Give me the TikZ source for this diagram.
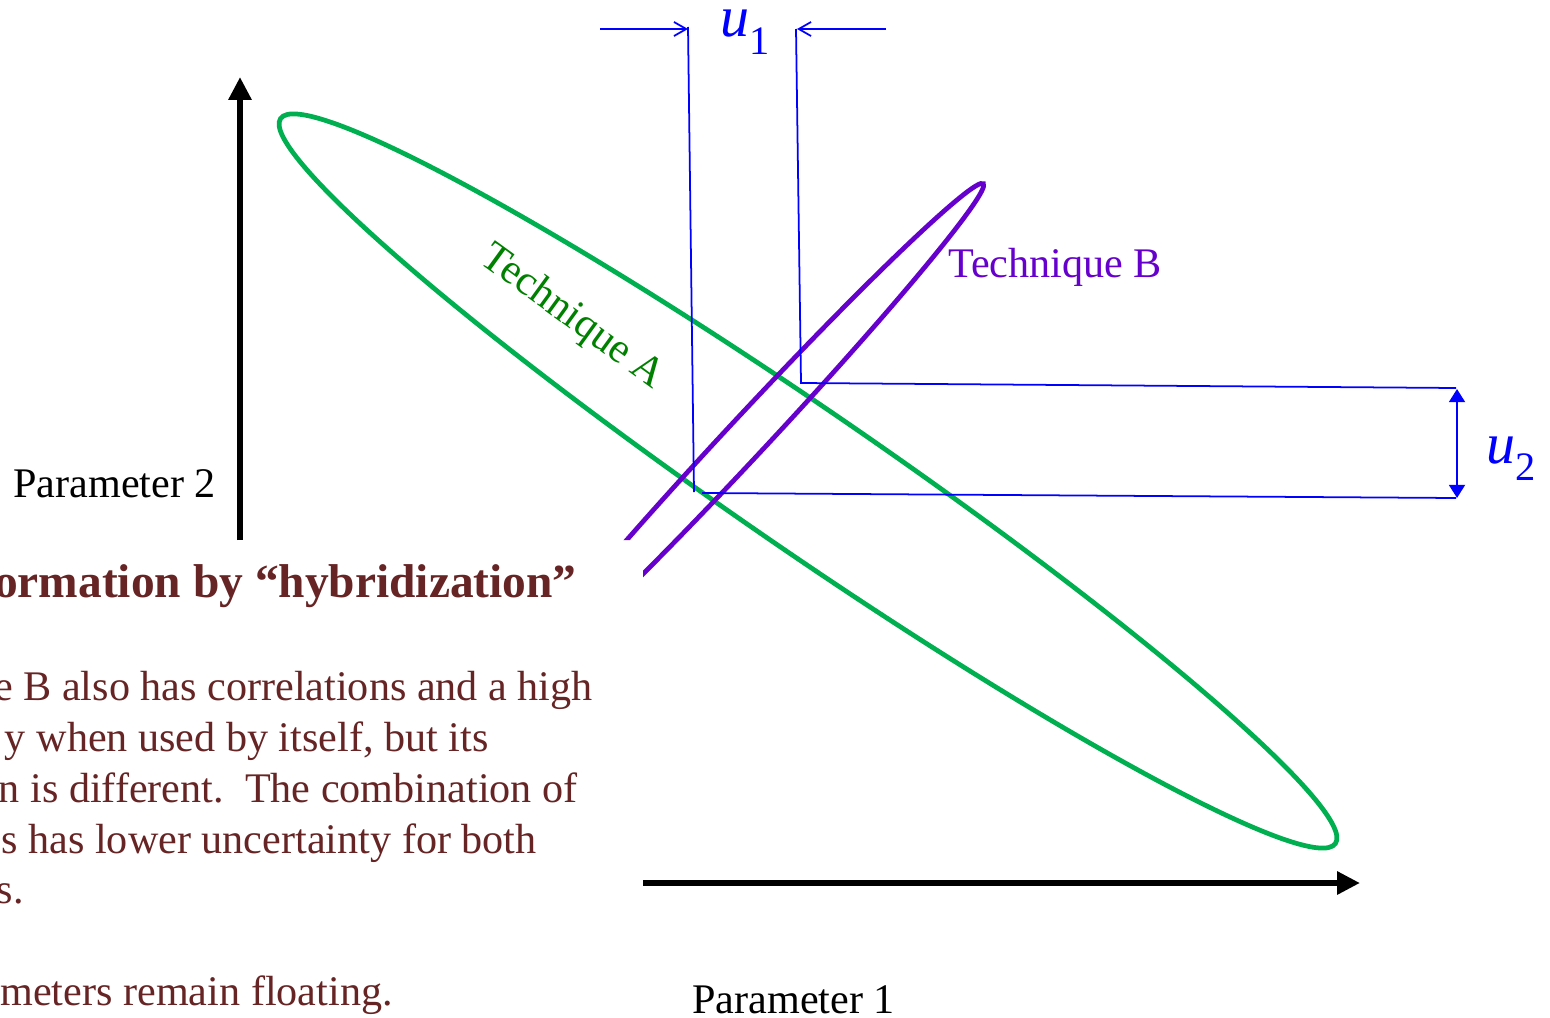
\documentclass[tikz,border=0pt]{standalone}
\usepackage{fontspec}
\setmainfont{Liberation Serif}
\definecolor{techGreen}{RGB}{0, 176, 80}
\definecolor{labelGreen}{RGB}{0, 128, 0}
\definecolor{techPurple}{RGB}{102, 0, 204}
\definecolor{dimBlue}{RGB}{0, 0, 255}
\definecolor{noteRed}{RGB}{102, 36, 36}
\usetikzlibrary{arrows.meta, positioning}

\begin{document}
\begin{tikzpicture}[
      x=0.02cm, y=-0.02cm,
      axis/.style={line width=3.4pt, -{Triangle[length=13pt, width=12.5pt]}},
      region/.style={line width=2.7pt},
      dimline/.style={dimBlue, line width=1pt},
      barb/.style={dimline, -{Straight Barb[length=7pt, width=8pt]}},
      span/.style={dimBlue, line width=1.5pt, {Triangle[length=7.5pt, width=9pt]}-{Triangle[length=7.5pt, width=9pt]}},
      lbl/.style={inner sep=0pt, font=\fontsize{24}{29}\selectfont},
      note/.style={lbl, text=noteRed, anchor=base east},
      ulbl/.style={inner sep=0pt, text=dimBlue, anchor=base west, font=\fontsize{33}{33}\selectfont\itshape},
    ]
      \useasboundingbox (0,0) rectangle (1550,1017);

      % uncertainty regions
      \coordinate (cA) at (808,481);
      \coordinate (cB) at (748,436);
      \draw[region, techGreen, rotate around={-34.5:(cA)}] (cA) ellipse [x radius=640, y radius=70];
      \begin{scope}
        \clip (0,0) rectangle (1550,540) (643,540) rectangle (1550,1017);
        \draw[region, techPurple, rotate around={47:(cB)}] (cB) ellipse [x radius=345, y radius=20];
      \end{scope}

      % axes
      \coordinate (yBot) at (240,540);
      \coordinate (yTop) at (240,77);
      \coordinate (xLeft) at (643,883);
      \coordinate (xRight) at (1360,883);
      \draw[axis] (yBot) -- (yTop);
      \draw[axis] (xLeft) -- (xRight);
      \node[lbl, anchor=base west] (par2) at (13,497) {Parameter 2};
      \node[lbl, anchor=base west] (par1) at (692,1013) {Parameter 1};

      \node[lbl, text=labelGreen, anchor=base, rotate=-36] (techA) at (566,326) {Technique A};
      \node[lbl, text=techPurple, anchor=base west] (techB) at (948,277) {Technique B};

      % projections onto the axes
      \coordinate (v1Top) at (688,27);
      \coordinate (v1Bot) at (694,492);
      \coordinate (h1Left) at (702,493);
      \coordinate (h1Right) at (1456,498);
      \coordinate (v2Top) at (796,29);
      \coordinate (v2Bot) at (801,383);
      \coordinate (h2Right) at (1456,388);
      \draw[dimline] (v1Top) -- (v1Bot);
      \draw[dimline] (h1Left) -- (h1Right);
      \draw[dimline] (v2Top) -- (v2Bot) -- (h2Right);

      \coordinate (a1Start) at (600,29);
      \coordinate (a1Tip) at (688,29);
      \coordinate (a2Start) at (886,29);
      \coordinate (a2Tip) at (797,29);
      \draw[barb] (a1Start) -- (a1Tip);
      \draw[barb] (a2Start) -- (a2Tip);
      \node[ulbl] (u1) at (720,37) {u\raisebox{-0.3em}{\fontsize{23}{23}\selectfont\upshape 1}};

      \coordinate (s2Top) at (1457,389);
      \coordinate (s2Bot) at (1457,498);
      \draw[span] (s2Top) -- (s2Bot);
      \node[ulbl] (u2) at (1486,463) {u\raisebox{-0.3em}{\fontsize{23}{23}\selectfont\upshape 2}};

      % text box
      \node[lbl, text=noteRed, anchor=base east, font=\fontsize{27}{31}\selectfont\bfseries] (title) at (577,597) {ormation by ``hybridization''};
      \node[note] (n1) at (593,700) {e B also has correlations and a high};
      \node[note] (n2) at (489,751) {y when used by itself, but its};
      \node[note] (n3) at (578,802) {n is different.\ \ The combination of};
      \node[note] (n4) at (537,853) {s has lower uncertainty for both};
      \node[note] (n5) at (24,903) {s.};
      \node[note] (n6) at (393,1005) {meters remain floating.};
    \end{tikzpicture}
\end{document}
